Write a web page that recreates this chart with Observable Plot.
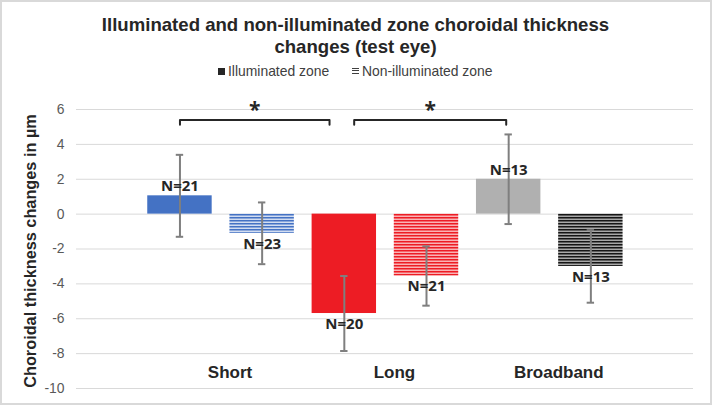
<!DOCTYPE html>
<html>
<head>
<meta charset="utf-8">
<script src="https://cdn.jsdelivr.net/npm/d3@7"></script>
<script src="https://cdn.jsdelivr.net/npm/@observablehq/plot@0.6"></script>
<style>
  html, body { margin: 0; padding: 0; background: #fff; }
  #wrap { position: relative; width: 717px; height: 412px; overflow: hidden; font-family: "Liberation Sans", Arial, sans-serif; }
  #border { position: absolute; left: 0; top: 0; width: 712px; height: 405px; box-sizing: border-box; border: 2px solid #D9D9D9; z-index: 3; pointer-events: none; }
  #title { position: absolute; left: 0; top: 14px; width: 711px; text-align: center; font-weight: bold; font-size: 18.6px; line-height: 22px; color: #262626; z-index: 2; }
  #legend { position: absolute; left: 218px; top: 62px; height: 18px; font-size: 13.9px; line-height: 18px; color: #404040; white-space: nowrap; z-index: 2; }
  #legend .sw { display: inline-block; width: 7px; height: 7px; vertical-align: middle; position: relative; top: -1px; margin-right: 3px; }
  #legend .item2 { position: absolute; left: 134px; top: 0; }
  #chart { position: absolute; left: 0; top: 85px; z-index: 1; }
</style>
</head>
<body>
<div id="wrap">
  <div id="title">Illuminated and non-illuminated zone choroidal thickness<br>changes (test eye)</div>
  <div id="legend">
    <span class="item1"><span class="sw" style="background:#262626"></span>Illuminated zone</span>
    <span class="item2"><span class="sw" style="background:repeating-linear-gradient(to bottom,#404040 0,#404040 1px,#fff 1px,#fff 2.4px)"></span>Non-illuminated zone</span>
  </div>
  <div id="chart"></div>
  <div id="border"></div>
</div>
<script>
// ---- data ----
const categories = ["Short", "Long", "Broadband"];
const zones = ["Illuminated zone", "Non-illuminated zone"];
// bar order: Short-I, Short-N, Long-I, Long-N, Broadband-I, Broadband-N
const means  = [1.05, -1.10, -5.70, -3.55, 2.00, -3.00];
const errors = [2.35, 1.77, 2.15, 1.70, 2.57, 2.08];
const counts = [21, 23, 20, 21, 13, 13];
const yTicks = [-10, -8, -6, -4, -2, 0, 2, 4, 6];
// significance brackets: pairs of bar indices
const brackets = [[0, 2], [2, 4]];

// ---- styles ----
const solidColors = ["#4472C4", "#ED1C24", "#B0B0B0"];
const patternIds = ["stripeBlue", "stripeRed", "stripeBlack"];
const halfW = 0.392;
const capHalf = 0.045;

const bars = means.map((m, i) => {
  const g = Math.floor(i / 2), z = i % 2;
  return {
    i, category: categories[g], zone: zones[z], mean: m, err: errors[i], n: counts[i],
    fill: z === 0 ? solidColors[g] : `url(#${patternIds[g]})`
  };
});

const bracketPts = [];
const bracketMid = [];
const bracketY = 5.4, bracketTick = 0.27;
const insets = [[0, 0.18], [0.12, 0.03]];
brackets.forEach(([a, b], k) => {
  const x1 = a + insets[k][0], x2 = b - insets[k][1];
  bracketPts.push({x: x1, y: bracketY - bracketTick, k});
  bracketPts.push({x: x1, y: bracketY, k});
  bracketPts.push({x: x2, y: bracketY, k});
  bracketPts.push({x: x2, y: bracketY - bracketTick, k});
  bracketMid.push({x: (x1 + x2) / 2, y: bracketY});
});

const catLabels = categories.map((c, g) => ({c, x: 2 * g + 0.5}));

const plot = Plot.plot({
  width: 717,
  height: 327,
  marginLeft: 76,
  marginRight: 24,
  marginTop: 24,
  marginBottom: 24,
  style: {background: "transparent", fontFamily: "Liberation Sans, Arial, sans-serif", fontSize: "13.9px", color: "#595959"},
  x: {domain: [-1.259, 6.249], axis: null},
  y: {domain: [-10, 6], ticks: yTicks, tickSize: 0, tickPadding: 12, tickFormat: d => String(d), label: null},
  color: {type: "identity"},
  marks: [
    Plot.ruleY(yTicks, {stroke: "#D9D9D9", strokeWidth: 1}),
    Plot.rect(bars, {x1: d => d.i - halfW, x2: d => d.i + halfW, y1: 0, y2: "mean", fill: "fill"}),
    Plot.ruleX(bars, {x: "i", y1: d => d.mean - d.err, y2: d => d.mean + d.err, stroke: "#7F7F7F", strokeWidth: 2}),
    Plot.ruleY(bars, {x1: d => d.i - capHalf, x2: d => d.i + capHalf, y: d => d.mean + d.err, stroke: "#7F7F7F", strokeWidth: 2}),
    Plot.ruleY(bars, {x1: d => d.i - capHalf, x2: d => d.i + capHalf, y: d => d.mean - d.err, stroke: "#7F7F7F", strokeWidth: 2}),
    Plot.text(bars.filter(d => d.mean >= 0), {x: "i", y: "mean", text: d => `N=${d.n}`, dy: -9.5, fill: "#262626", fontWeight: "bold", fontSize: 15, fontFamily: "Open Sans"}),
    Plot.text(bars.filter(d => d.mean < 0), {x: "i", y: "mean", text: d => `N=${d.n}`, dy: 10.5, fill: "#262626", fontWeight: "bold", fontSize: 15, fontFamily: "Open Sans"}),
    Plot.line(bracketPts, {x: "x", y: "y", z: "k", stroke: "#262626", strokeWidth: 2}),
    Plot.text(bracketMid, {x: "x", y: "y", text: () => "*", dy: -10, fill: "#262626", fontWeight: "bold", fontSize: 21, fontFamily: "Open Sans"}),
    Plot.text(catLabels, {x: "x", text: "c", frameAnchor: "bottom", dy: -11, dx: 9, fill: "#262626", fontWeight: "bold", fontSize: 17}),
    Plot.text(["Choroidal thickness changes in µm"], {frameAnchor: "left", textAnchor: "middle", rotate: -90, dx: -46, dy: 2, fill: "#262626", fontWeight: "bold", fontSize: 16.3})
  ]
});

// pattern definitions for striped (non-illuminated) bars
const svgSel = d3.select(plot);
const defs = svgSel.insert("defs", ":first-child");
const patterns = [
  {id: "stripeBlue", line: "#4472C4", bg: "#D2DDF1"},
  {id: "stripeRed", line: "#ED1C24", bg: "#F9B3B5"},
  {id: "stripeBlack", line: "#151515", bg: "#A8A8A8"}
];
patterns.forEach(p => {
  const pat = defs.append("pattern").attr("id", p.id).attr("patternUnits", "userSpaceOnUse")
    .attr("width", 8).attr("height", 3);
  pat.append("rect").attr("width", 8).attr("height", 3).attr("fill", p.bg);
  pat.append("rect").attr("width", 8).attr("height", 1.5).attr("fill", p.line);
});

document.getElementById("chart").appendChild(plot);
</script>
</body>
</html>
